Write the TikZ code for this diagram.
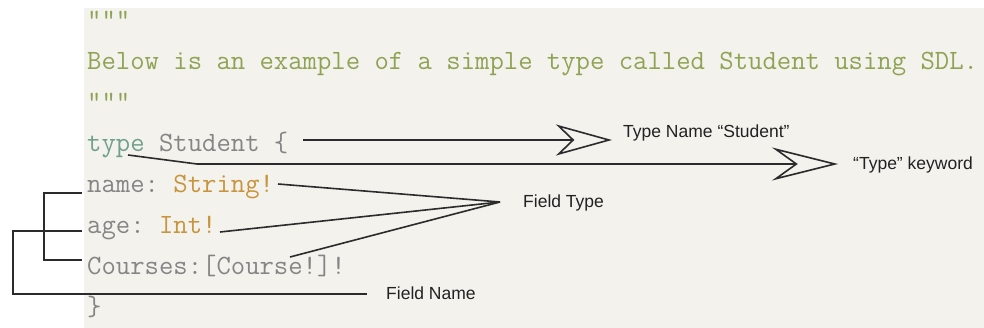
\documentclass[tikz,border=0pt]{standalone}
\usepackage{fontspec}
\setmainfont{Liberation Sans}
\usetikzlibrary{arrows.meta}
\definecolor{panel}{HTML}{F4F2ED}
\definecolor{cgreen}{HTML}{8FA355}
\definecolor{cteal}{HTML}{72A08E}
\definecolor{cgray}{HTML}{858585}
\definecolor{corange}{HTML}{C8953F}
\definecolor{ink}{HTML}{2B2B2B}
\definecolor{labelink}{HTML}{222222}
\newcommand{\codesetup}{\ttfamily\fontsize{27.9}{30}\selectfont\frenchspacing\spaceskip=\fontcharwd\font`\a\relax\xspaceskip=\spaceskip}
\begin{document}
\begin{tikzpicture}[x=1pt,y=-1pt,
  code/.style={font=\codesetup, anchor=base west, inner sep=0pt, text=cgray},
  lbl/.style={font=\fontsize{17.5}{20}\selectfont, anchor=base west, inner sep=0pt, text=labelink},
  conn/.style={draw=ink, line width=1.6pt},
  bigtipA/.style={-{Stealth[length=56pt,width=31pt,inset=16pt,open,fill=panel]}},
  bigtipB/.style={-{Stealth[length=66pt,width=33pt,inset=23pt,open,fill=panel]}},
]
\useasboundingbox (0,0) rectangle (984,328);
\fill[white] (0,0) rectangle (984,328);
\fill[panel] (84,8) rectangle (984,328);

% code lines
\node[code, text=cgreen] (q1) at (87,29) {"""};
\node[code, text=cgreen] (doc) at (87,70) {Below is an example of a simple type called Student using SDL.};
\node[code, text=cgreen] (q2) at (87,111) {"""};
\node[code] (ts) at (87,152) {\textcolor{cteal}{type} Student \{};
\node[code] (nm) at (87,193) {name: \textcolor{corange}{String!}};
\node[code] (ag) at (87,234) {age: \textcolor{corange}{Int!}};
\node[code] (cs) at (87,275) {Courses:[Course!]!};
\node[code] (cb) at (87,316) {\}};

% labels
\node[lbl] (tnl) at (623,138) {Type Name “Student”};
\node[lbl] (tkl) at (853,170) {“Type” keyword};
\node[lbl] (ftl) at (523,208) {Field Type};
\node[lbl] (fnl) at (386,300) {Field Name};

% connector end points
\coordinate (tsEnd) at (303,140);
\coordinate (tnTip) at (612,140);
\coordinate (kwStart) at (128,155);
\coordinate (kwBend) at (197,164);
\coordinate (kwTip) at (838,164);
\coordinate (ftTip) at (500,202);
\coordinate (nmEnd) at (278,184);
\coordinate (agEnd) at (220,232);
\coordinate (csEnd) at (290,257);
\coordinate (nmL) at (82,193);
\coordinate (agL) at (82,231);
\coordinate (csL) at (82,260);
\coordinate (brIn) at (44,193);
\coordinate (brOut) at (13,231);
\coordinate (fnEnd) at (367,294);

% arrows
\draw[conn, bigtipA] (tsEnd) -- (tnTip);
\draw[conn, bigtipB] (kwStart) -- (kwBend) -- (kwTip);

% field type
\draw[conn, line join=miter] (nmEnd) -- (ftTip) -- (agEnd);
\draw[conn] (csEnd) -- (ftTip);

% field name brackets
\draw[conn] (nmL) -- (brIn) |- (csL);
\draw[conn] (agL) -- (brOut) |- (fnEnd);
\end{tikzpicture}
\end{document}
